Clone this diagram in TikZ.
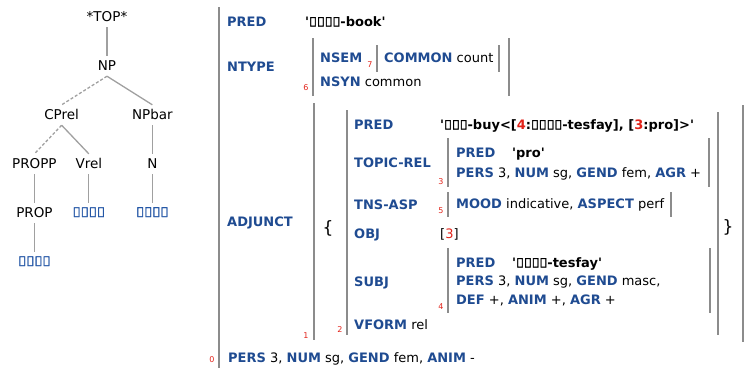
\documentclass[tikz,border=0pt]{standalone}
\usepackage{fontspec}
\usepackage{tikz-qtree}
\newfontfamily\fsfont{DejaVu Sans}
\newfontfamily\ethfont{Noto Sans}[FakeBold=2]
\definecolor{fsblue}{HTML}{1F4B91}
\definecolor{ethblue}{HTML}{2457A6}
\definecolor{fsred}{HTML}{E2231A}
\definecolor{bargray}{HTML}{8C8C8C}
\definecolor{edgegray}{HTML}{A0A0A0}
\newcommand{\fsattr}[1]{{\bfseries\color{fsblue}#1}}
\newcommand{\fsref}[1]{{\color{fsred}#1}}
\newcommand{\ethword}[1]{{\ethfont #1}}
\newcommand{\sq}{\textquotesingle}
\tikzset{
  fs/.style={anchor=base west, inner sep=0pt, font=\fsfont\fontsize{13}{15}\selectfont},
  fsval/.style={fs, font=\fsfont\bfseries\fontsize{13}{15}\selectfont},
  idx/.style={inner sep=0pt, text=fsred, font=\fsfont\fontsize{8}{9}\selectfont},
  fsbar/.style={draw=bargray, line width=2.3pt},
  brace/.style={inner sep=0pt, font=\fsfont\fontsize{17}{20}\selectfont},
  treedash/.style={dash pattern=on 3pt off 2pt}
}
\begin{document}
\begin{tikzpicture}[x=1pt,y=-1pt]
\useasboundingbox (0,0) rectangle (747,368);
\begin{scope}[shift={(107,17)},
  every tree node/.style={anchor=center, font=\fsfont\fontsize{13.5}{16}\selectfont,
    inner xsep=1pt, inner ysep=4pt, text height=10pt, text depth=2pt},
  level distance=49pt, sibling distance=14pt,
  level 2/.style={sibling distance=25pt},
  edge from parent/.style={draw=edgegray, line width=1.3pt,
    edge from parent path={(\tikzparentnode.south) -- (\tikzchildnode.north)}}]
\Tree
[.\node(top){*TOP*};
  [.\node(np){NP};
    \edge[treedash];
    [.\node(cprel){CPrel};
      \edge[treedash];
      [.\node(propp){PROPP};
        [.\node(prop){PROP};
          \node[text=ethblue](tesfay){\ethword{ተስፋይ}};
        ]
      ]
      [.\node(vrel){Vrel};
        \node[text=ethblue](zigeza){\ethword{ዚገዝአ}};
      ]
    ]
    [.\node(npbar){NPbar};
      [.\node(n){N};
        \node[text=ethblue](metshaf){\ethword{መጽሓፍ}};
      ]
    ]
  ]
]
\end{scope}

\draw[fsbar] (219,7) -- (219,368);
\node[idx] (i0) at (212,360) {0};
\node[fs] (pred0) at (227,26.5) {\fsattr{PRED}};
\node[fsval] (predval0) at (305,26.5) {\sq\ethword{መጽሓፍ}-book\sq};
\node[fs] (ntype) at (227,71.5) {\fsattr{NTYPE}};
\draw[fsbar] (313,38) -- (313,96);
\draw[fsbar] (509,38) -- (509,96);
\node[idx] (i6) at (306,88) {6};
\node[fs] (nsem) at (320,62.5) {\fsattr{NSEM}};
\node[idx] (i7) at (370,65) {7};
\draw[fsbar] (377,45) -- (377,72);
\draw[fsbar] (499,45) -- (499,72);
\node[fs] (common) at (384,62.5) {\fsattr{COMMON} count};
\node[fs] (nsyn) at (320,86.5) {\fsattr{NSYN} common};

\node[fs] (adjunct) at (227,226.5) {\fsattr{ADJUNCT}};
\draw[fsbar] (314,103) -- (314,340);
\draw[fsbar] (743,105) -- (743,342);
\node[idx] (i1) at (306,336) {1};
\node[brace] (lbrace) at (328,228) {\{};
\node[brace] (rbrace) at (728,227) {\}};
\draw[fsbar] (347,110) -- (347,335);
\draw[fsbar] (718,112) -- (718,335);
\node[idx] (i2) at (340,330) {2};

\node[fs] (pred2) at (354,129.5) {\fsattr{PRED}};
\node[fsval] (predval2) at (440,129.5)
  {\sq\ethword{ገዝአ}-buy<[\fsref{4}:\ethword{ተስፋይ}-tesfay], [\fsref{3}:pro]>\sq};
\node[fs] (topicrel) at (354,167.5) {\fsattr{TOPIC-REL}};
\draw[fsbar] (448,138) -- (448,187);
\draw[fsbar] (709,138) -- (709,187);
\node[idx] (i3) at (441,182) {3};
\node[fs] (pred3) at (456,157.5) {\fsattr{PRED}};
\node[fsval] (predval3) at (512,157.5) {\sq pro\sq};
\node[fs] (agr3) at (456,177.5)
  {\fsattr{PERS} 3, \fsattr{NUM} sg, \fsattr{GEND} fem, \fsattr{AGR} +};

\node[fs] (tnsasp) at (354,209.5) {\fsattr{TNS-ASP}};
\draw[fsbar] (448,192) -- (448,217);
\draw[fsbar] (671,192) -- (671,217);
\node[idx] (i5) at (441,211) {5};
\node[fs] (mood) at (456,208.5) {\fsattr{MOOD} indicative, \fsattr{ASPECT} perf};

\node[fs] (obj) at (354,238.5) {\fsattr{OBJ}};
\node[fs] (objval) at (440,238.5) {[\fsref{3}]};

\node[fs] (subj) at (354,286.5) {\fsattr{SUBJ}};
\draw[fsbar] (448,248) -- (448,313);
\draw[fsbar] (710,248) -- (710,313);
\node[idx] (i4) at (441,307) {4};
\node[fs] (pred4) at (456,267.5) {\fsattr{PRED}};
\node[fsval] (predval4) at (512,267.5) {\sq\ethword{ተስፋይ}-tesfay\sq};
\node[fs] (agr4) at (456,285.5) {\fsattr{PERS} 3, \fsattr{NUM} sg, \fsattr{GEND} masc,};
\node[fs] (def4) at (456,304.5) {\fsattr{DEF} +, \fsattr{ANIM} +, \fsattr{AGR} +};

\node[fs] (vform) at (354,329.5) {\fsattr{VFORM} rel};
\node[fs] (agr0) at (228,362.5)
  {\fsattr{PERS} 3, \fsattr{NUM} sg, \fsattr{GEND} fem, \fsattr{ANIM} -};
\end{tikzpicture}
\end{document}
